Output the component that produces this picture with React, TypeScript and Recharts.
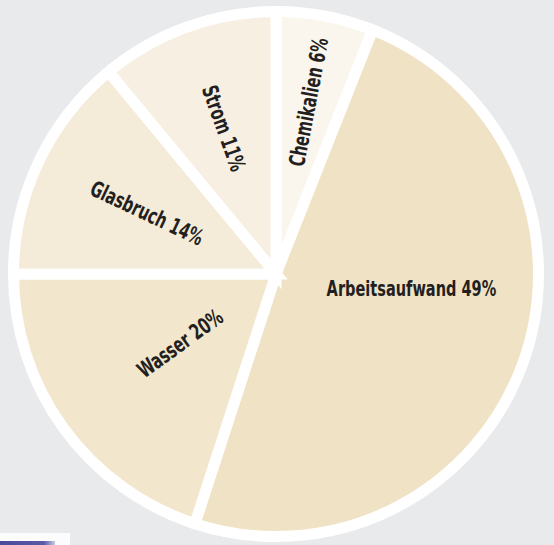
import React from "react";
import { PieChart, Pie, Cell } from "recharts";

const categories = ["Chemikalien", "Arbeitsaufwand", "Wasser", "Glasbruch", "Strom"];
const shares = [6, 49, 20, 14, 11];
const colors = ["#faf6ee", "#f0e2c4", "#f2e6cd", "#f4ebd8", "#f7f0e2"];

const data = categories.map((name, i) => ({ name, value: shares[i] }));
const ring = [{ name: "ring", value: 1 }];

const CX = 276;
const CY = 274;
const R_VISIBLE = 257;
const GAP = 11;

const renderLabel = (props: any) => {
  const { cx, cy, midAngle, percent, name, value } = props;
  const m = ((midAngle % 360) + 360) % 360;
  const rad = (m * Math.PI) / 180;
  let x: number;
  let y: number;
  let rot: number;
  if (percent > 0.4) {
    x = cx + 0.527 * R_VISIBLE;
    y = cy + 15;
    rot = 0;
  } else {
    const r = R_VISIBLE * (0.775 - 1.57 * percent);
    x = cx + r * Math.cos(rad);
    y = cy - r * Math.sin(rad);
    rot = m < 90 || m > 270 ? -m : 180 - m;
  }
  return (
    <text
      x={0}
      y={0}
      transform={`translate(${x} ${y}) rotate(${rot}) scale(0.735 1)`}
      textAnchor="middle"
      dominantBaseline="central"
      fill="#231f20"
      fontFamily="'DejaVu Sans Condensed', 'DejaVu Sans', sans-serif"
      fontWeight="bold"
      fontSize={22}
    >
      {`${name} ${value}%`}
    </text>
  );
};

export default function App() {
  return (
    <div
      style={{
        position: "fixed",
        left: 0,
        top: 0,
        width: 554,
        height: 545,
        background: "#e9eaec",
        overflow: "hidden",
      }}
    >
      <PieChart width={554} height={545} margin={{ top: 0, right: 0, bottom: 0, left: 0 }}>
        <Pie
          data={ring}
          dataKey="value"
          cx={CX}
          cy={CY}
          outerRadius={267}
          fill="#ffffff"
          stroke="none"
          isAnimationActive={false}
        />
        <Pie
          data={data}
          dataKey="value"
          nameKey="name"
          cx={CX}
          cy={CY}
          startAngle={90}
          endAngle={-270}
          outerRadius={R_VISIBLE + GAP / 2}
          stroke="#ffffff"
          strokeWidth={GAP}
          label={renderLabel}
          labelLine={false}
          isAnimationActive={false}
        >
          {data.map((d, i) => (
            <Cell key={d.name} fill={colors[i]} />
          ))}
        </Pie>
      </PieChart>
      <div
        style={{
          position: "absolute",
          left: 0,
          top: 533,
          width: 70,
          height: 12,
          background: "#fbfcfb",
        }}
      />
      <div
        style={{
          position: "absolute",
          left: 0,
          top: 541,
          width: 55,
          height: 4,
          background: "linear-gradient(90deg, #4a4a9a, #5a5aa8 80%, #c8c8e0)",
        }}
      />
    </div>
  );
}
